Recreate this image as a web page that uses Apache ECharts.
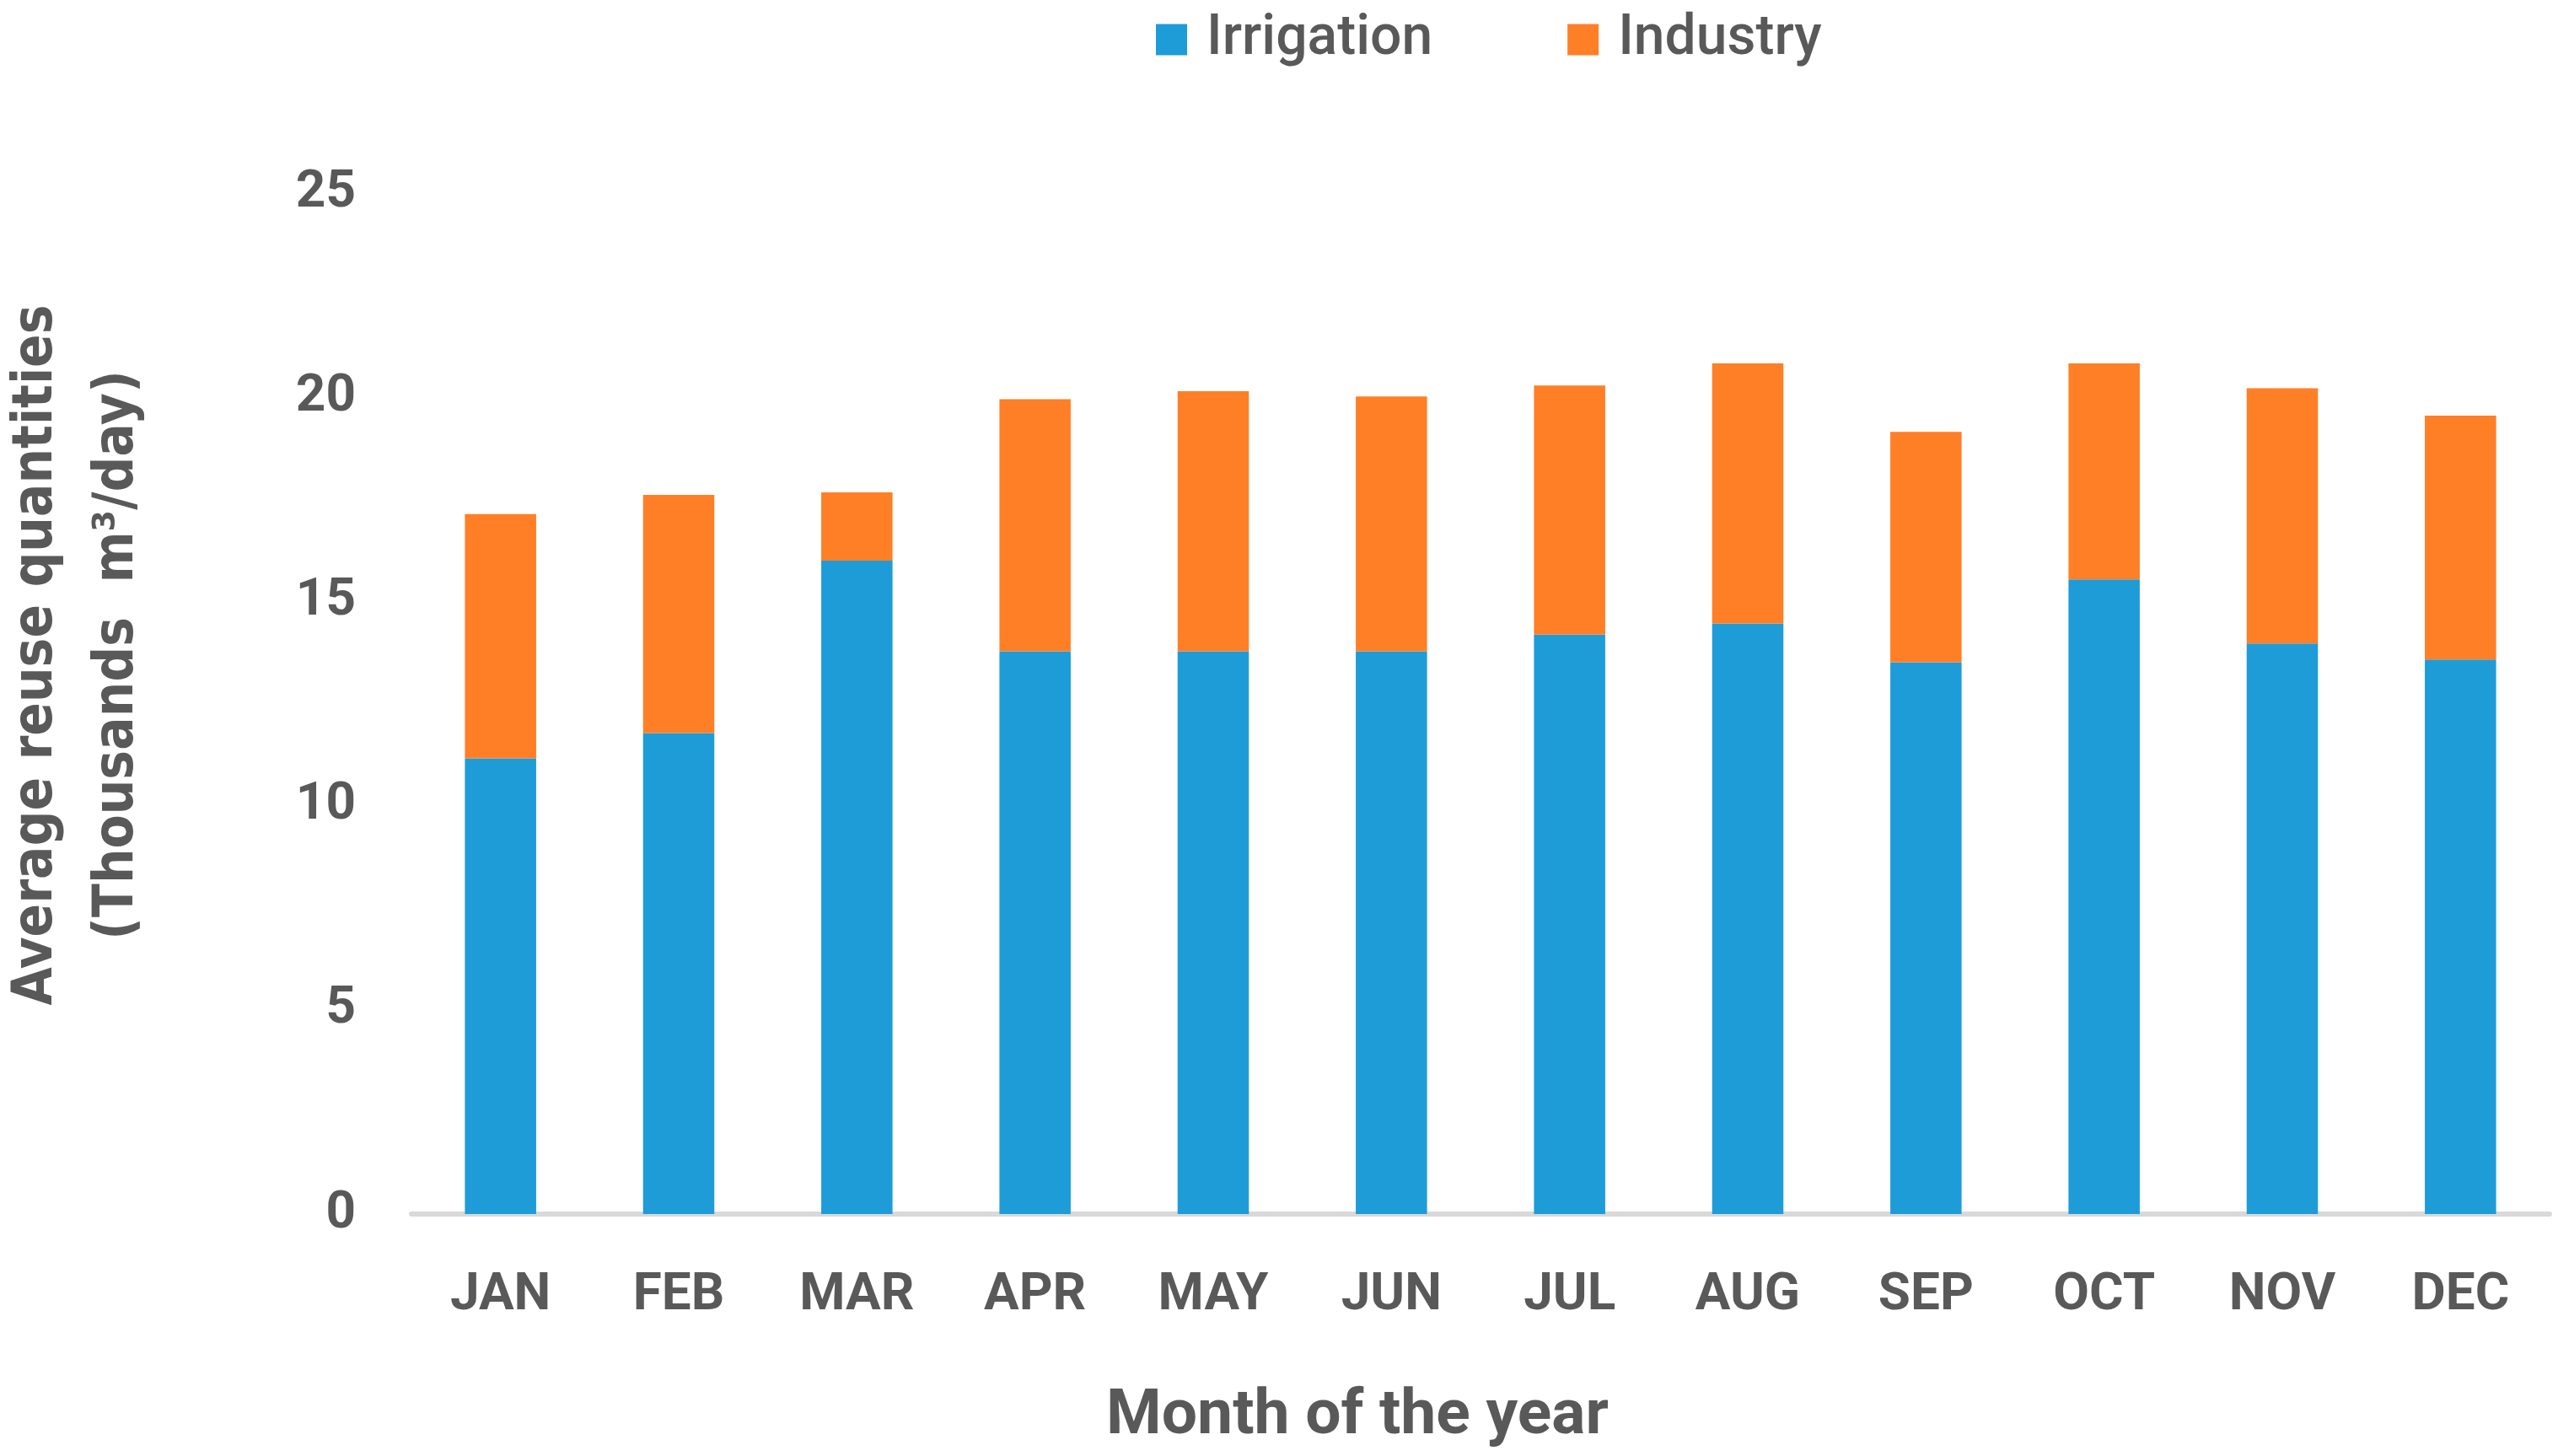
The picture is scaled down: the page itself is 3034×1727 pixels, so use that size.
<!DOCTYPE html>
<html>
<head>
<meta charset="utf-8">
<script src="https://cdn.jsdelivr.net/npm/echarts@6/dist/echarts.min.js"></script>
<style>
html,body{margin:0;padding:0;background:#fff;}
#chart{width:3034px;height:1727px;}
</style>
</head>
<body>
<div id="chart"></div>
<script>
const categories = ['JAN','FEB','MAR','APR','MAY','JUN','JUL','AUG','SEP','OCT','NOV','DEC'];
const irrigation = [11.16, 11.78, 16.0, 13.78, 13.78, 13.78, 14.19, 14.46, 13.51, 15.54, 13.97, 13.58];
const industry = [5.98, 5.83, 1.67, 6.17, 6.37, 6.24, 6.10, 6.37, 5.64, 5.29, 6.25, 5.97];
const seriesNames = ['Irrigation', 'Industry'];
const yTicks = { min: 0, max: 25, interval: 5 };
const xTitle = 'Month of the year';
const yTitleLine1 = 'Average reuse quantities';
const yTitleLine2 = '(Thousands  m\u00B3/day)';

const chart = echarts.init(document.getElementById('chart'));
const labelColor = '#595959';
chart.setOption({
  animation: false,
  backgroundColor: '#ffffff',
  color: ['#1E9CD8', '#FF7F27'],
  legend: {
    data: seriesNames,
    left: 1366,
    top: 9,
    itemWidth: 37,
    itemHeight: 37,
    itemGap: 160,
    icon: 'rect',
    textStyle: { fontFamily: 'Roboto', fontWeight: 500, fontSize: 66, color: labelColor, padding: [0, 0, 0, 18] }
  },
  grid: { left: 488, right: 10, top: 229, bottom: 287, containLabel: false },
  xAxis: {
    type: 'category',
    data: categories,
    offset: 3,
    axisLine: { show: true, lineStyle: { color: '#d9d9d9', width: 6 } },
    axisTick: { show: false },
    axisLabel: { fontFamily: 'Roboto', fontWeight: 'bold', fontSize: 62, color: labelColor, margin: 63 }
  },
  yAxis: {
    type: 'value',
    min: yTicks.min,
    max: yTicks.max,
    interval: yTicks.interval,
    axisLine: { show: false },
    axisTick: { show: false },
    splitLine: { show: false },
    axisLabel: { fontFamily: 'Roboto', fontWeight: 'bold', fontSize: 62, color: labelColor, margin: 66 }
  },
  series: [
    { name: seriesNames[0], type: 'bar', stack: 'total', data: irrigation, barWidth: '40%' },
    { name: seriesNames[1], type: 'bar', stack: 'total', data: industry, barWidth: '40%' }
  ],
  graphic: [
    { type: 'text', x: 1610, y: 1681, style: { text: xTitle, fontFamily: 'Roboto', fontWeight: 'bold', fontSize: 75, fill: labelColor, align: 'center', verticalAlign: 'middle' } },
    { type: 'text', x: 44, y: 777, rotation: Math.PI / 2, style: { text: yTitleLine1, fontFamily: 'DejaVu Sans Condensed, DejaVu Sans', fontWeight: 'bold', fontSize: 65, fill: labelColor, align: 'center', verticalAlign: 'middle' } },
    { type: 'text', x: 140, y: 777, rotation: Math.PI / 2, style: { text: yTitleLine2, fontFamily: 'DejaVu Sans Condensed, DejaVu Sans', fontWeight: 'bold', fontSize: 65, fill: labelColor, align: 'center', verticalAlign: 'middle' } }
  ]
});
</script>
</body>
</html>
